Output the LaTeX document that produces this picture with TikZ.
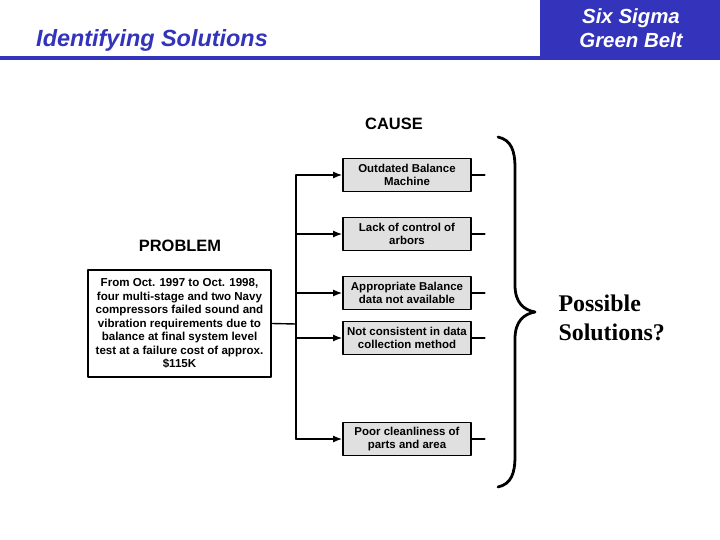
\documentclass[tikz,border=0pt]{standalone}
\usepackage{fontspec}
\setmainfont{Liberation Serif}
\setsansfont{Liberation Sans}
\usetikzlibrary{arrows.meta}

\definecolor{sigmablue}{RGB}{51,51,187}
\definecolor{causegray}{RGB}{224,224,224}

\tikzset{
  probbox/.style={draw, line width=1.6pt, minimum width=183bp, minimum height=107bp,
    align=center, inner sep=2bp, font=\sffamily\bfseries\fontsize{11.6}{13.6}\selectfont},
  causebox/.style={draw, line width=1.8pt, fill=causegray, minimum width=128bp,
    minimum height=33bp, align=center, inner sep=1bp,
    font=\sffamily\bfseries\fontsize{11.5}{13.5}\selectfont},
  heading/.style={font=\sffamily\bfseries\fontsize{16.5}{18}\selectfont},
  feed/.style={line width=1.4pt, -{Latex[length=9bp,width=7bp]}},
}

\begin{document}
\begin{tikzpicture}[x=1bp, y=-1bp, line cap=round, line join=round]

% --- Parameters (adjust to taste) ---
\def\xspine{296}   % x of the vertical spine
\def\stub{13}      % length of the stubs right of the causes

\useasboundingbox (0,0) rectangle (720,540);

% --- Header band ---
\fill[sigmablue] (540,0) rectangle (720,58);
\fill[sigmablue] (0,56) rectangle (720,60);
\node[text=sigmablue, font=\sffamily\bfseries\itshape\fontsize{23.5}{26}\selectfont]
  (title) at (152,40) {Identifying Solutions};
\node[text=white, align=center, font=\sffamily\bfseries\itshape\fontsize{20.5}{24}\selectfont]
  (belt) at (631,28) {Six Sigma\\Green Belt};

% --- Headings ---
\node[heading] (causehd) at (394,124) {CAUSE};
\node[heading] (probhd)  at (180,246) {PROBLEM};

% --- Problem box ---
\node[probbox] (problem) at (179.5,323.5)
  {From Oct. 1997 to Oct. 1998,\\four multi-stage and two Navy\\compressors failed sound and\\
   vibration requirements due to\\balance at final system level\\
   test at a failure cost of approx.\\\$115K};

% --- Cause boxes ---
\node[causebox] (c1) at (407,175) {Outdated Balance\\Machine};
\node[causebox] (c2) at (407,234) {Lack of control of\\arbors};
\node[causebox] (c3) at (407,293) {Appropriate Balance\\data not available};
\node[causebox] (c4) at (407,338) {Not consistent in data\\collection method};
\node[causebox] (c5) at (407,439) {Poor cleanliness of\\parts and area};

% --- Spine and arrows ---
\coordinate (jn) at (\xspine,324);
\draw[line width=1.4pt] (problem.east) -- (jn);
\draw[line width=1.6pt] (jn |- c1) -- (jn |- c5);
\foreach \c in {c1,c2,c3,c4,c5}{
  \draw[feed] (jn |- \c) -- (\c.west);
  \draw[line width=1.2pt] (\c.east) -- ++(\stub,0);
}

% --- Big brace ---
\draw[line width=2.8pt]
  (498,137)
  .. controls (511,140) and (515,150) .. (515,168)
  -- (515,285)
  .. controls (515,303) and (524,310) .. (535,312)
  .. controls (524,314) and (515,321) .. (515,339)
  -- (515,456)
  .. controls (515,474) and (511,484) .. (498,487);

% --- Labels ---
\node[anchor=west, align=left, font=\rmfamily\bfseries\fontsize{24}{29}\selectfont]
  (solutions) at (555,318) {Possible\\Solutions?};

\end{tikzpicture}
\end{document}
